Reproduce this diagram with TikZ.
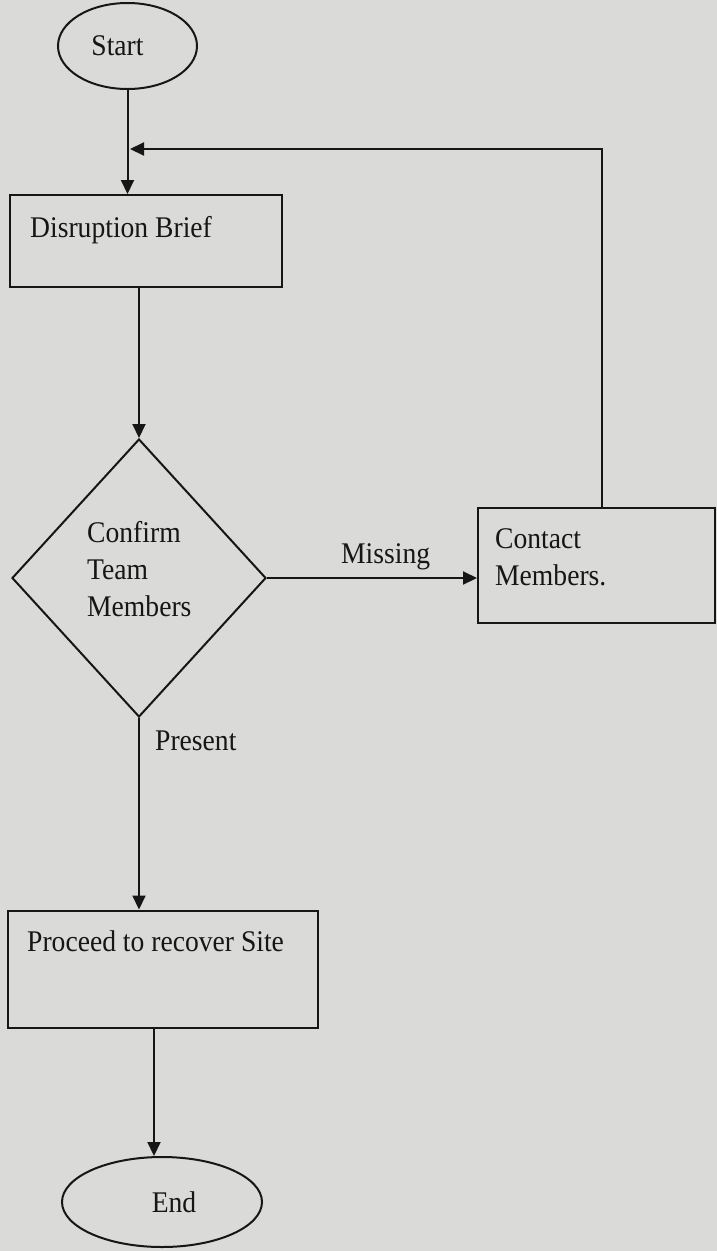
\documentclass[tikz,border=0pt]{standalone}
\usepackage{fontspec}
\setmainfont{Liberation Serif}
\newfontfamily\flowfont[FakeStretch=0.92]{Liberation Serif}
\usetikzlibrary{shapes.geometric,arrows.meta,calc}
\definecolor{paper}{RGB}{218,218,216}
\definecolor{ink}{RGB}{22,22,22}
\begin{document}
\begin{tikzpicture}[x=1pt,y=-1pt,
  every node/.style={font=\flowfont\fontsize{30}{37}\selectfont, text=ink, inner sep=0pt},
  shapeline/.style={draw=ink, line width=2pt},
  terminal/.style={shapeline, ellipse},
  procbox/.style={shapeline, rectangle},
  decision/.style={shapeline, diamond},
  flow/.style={draw=ink, line width=2pt, -{Triangle[length=14pt,width=13pt]}},
  lbl/.style={anchor=base west},
  blocktext/.style={anchor=west, align=left}
]
\fill[paper] (0,0) rectangle (717,1251);
\useasboundingbox (0,0) rectangle (717,1251);

% nodes
\node[terminal, minimum width=139pt, minimum height=86pt] (start) at (127.5,46) {\hspace*{-20pt}Start};
\node[procbox, minimum width=272pt, minimum height=92pt] (brief) at (146,241) {};
\node[lbl] (briefT) at (30,237) {Disruption Brief};

\node[decision, minimum width=254pt, minimum height=278pt] (check) at (139,578) {};
\node[blocktext] (checkT) at (87,569) {Confirm\\Team\\Members};

\node[procbox, minimum width=237pt, minimum height=115pt] (contact) at (596.5,565) {};
\node[blocktext] (contactT) at (495,557) {Contact\\Members.};

\node[procbox, minimum width=310pt, minimum height=117pt] (proceed) at (163,969) {};
\node[lbl] (proceedT) at (27,951) {Proceed to recover Site};

\node[terminal, minimum width=200pt, minimum height=90pt] (stop) at (162,1202) {\hspace*{24pt}End};

% labels
\node[lbl] (missingL) at (341,563) {Missing};
\node[lbl] (presentL) at (155,750) {Present};

% connectors
\coordinate (join) at (130,149);
\draw[flow] (start.south) -- (start.south |- brief.north);
\draw[flow] (check.north |- brief.south) -- (check.north);
\draw[flow] (check.east) -- (contact.west |- check.east);
\draw[flow] ([xshift=5pt]contact.north) |- (join);
\draw[flow] (check.south) -- (check.south |- proceed.north);
\draw[flow] ([xshift=-8pt]stop.north |- proceed.south) -- ([xshift=-8pt]stop.north);
\end{tikzpicture}
\end{document}
